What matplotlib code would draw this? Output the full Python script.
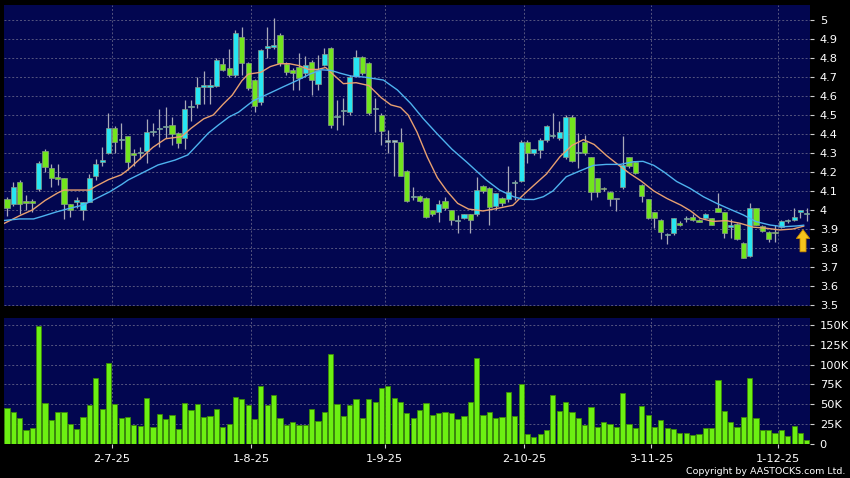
import numpy as np
import matplotlib
matplotlib.use("Agg")
from matplotlib import pyplot as plt

# daily OHLC (HKD), oldest first
opens = [4.06, 4.03, 4.15, 4.045, 4.045, 4.11, 4.31, 4.22, 4.175, 4.17,
         4.03, 4.04, 4.00, 4.04, 4.18, 4.255, 4.30, 4.43, 4.37, 4.39,
         4.30, 4.30, 4.31, 4.41, 4.425, 4.435, 4.45, 4.405, 4.38, 4.54,
         4.56, 4.65, 4.65, 4.655, 4.77, 4.75, 4.71, 4.91, 4.775, 4.685,
         4.57, 4.855, 4.86, 4.92, 4.77, 4.737, 4.754, 4.72, 4.78, 4.663,
         4.763, 4.851, 4.49, 4.52, 4.517, 4.707, 4.807, 4.772, 4.53, 4.50,
         4.36, 4.36, 4.36, 4.207, 4.07, 4.075, 4.065, 4.00, 3.99, 4.047,
         4.00, 3.94, 3.956, 3.977, 3.977, 4.128, 4.118, 4.023, 4.065, 4.058,
         4.14, 4.153, 4.36, 4.298, 4.316, 4.368, 4.39, 4.377, 4.28, 4.487,
         4.30, 4.36, 4.277, 4.167, 4.117, 4.096, 4.058, 4.12, 4.277, 4.254,
         4.132, 4.056, 3.988, 3.947, 3.87, 3.877, 3.933, 3.95, 3.965, 3.947,
         3.956, 3.956, 4.009, 3.988, 3.909, 3.925, 3.825, 3.758, 4.009, 3.917,
         3.886, 3.88, 3.912, 3.94, 3.947, 3.991, 3.977]
highs = [4.07, 4.15, 4.16, 4.08, 4.06, 4.26, 4.32, 4.24, 4.24, 4.17,
         4.03, 4.07, 4.04, 4.19, 4.27, 4.33, 4.51, 4.44, 4.46, 4.39,
         4.32, 4.33, 4.48, 4.46, 4.53, 4.54, 4.49, 4.41, 4.58, 4.58,
         4.70, 4.73, 4.69, 4.80, 4.80, 4.85, 4.95, 4.965, 4.78, 4.69,
         4.85, 4.965, 5.01, 4.93, 4.78, 4.75, 4.825, 4.81, 4.79, 4.816,
         4.851, 4.86, 4.58, 4.59, 4.71, 4.842, 4.81, 4.78, 4.588, 4.51,
         4.42, 4.36, 4.43, 4.21, 4.12, 4.08, 4.07, 4.00, 4.053, 4.07,
         4.00, 3.974, 3.98, 3.98, 4.175, 4.13, 4.12, 4.09, 4.07, 4.23,
         4.16, 4.37, 4.37, 4.32, 4.38, 4.45, 4.51, 4.47, 4.50, 4.50,
         4.404, 4.395, 4.28, 4.17, 4.12, 4.10, 4.06, 4.389, 4.28, 4.26,
         4.135, 4.06, 3.99, 3.95, 3.88, 3.96, 3.94, 3.97, 3.98, 3.95,
         3.985, 3.96, 4.088, 3.99, 3.95, 3.93, 3.83, 4.035, 4.01, 3.92,
         3.89, 3.92, 3.945, 3.955, 4.009, 4.00, 4.009]
lows = [3.97, 4.02, 3.98, 4.00, 3.99, 4.10, 4.20, 4.12, 4.13, 3.95,
        3.965, 4.01, 3.945, 4.04, 4.16, 4.23, 4.295, 4.30, 4.32, 4.21,
        4.23, 4.27, 4.25, 4.39, 4.33, 4.38, 4.34, 4.325, 4.32, 4.47,
        4.535, 4.56, 4.56, 4.65, 4.73, 4.70, 4.70, 4.71, 4.63, 4.515,
        4.555, 4.80, 4.85, 4.76, 4.71, 4.63, 4.63, 4.70, 4.605, 4.632,
        4.76, 4.43, 4.42, 4.447, 4.50, 4.70, 4.71, 4.50, 4.412, 4.342,
        4.30, 4.18, 4.18, 4.04, 4.05, 4.04, 3.96, 3.97, 3.935, 4.00,
        3.921, 3.877, 3.95, 3.877, 3.97, 4.09, 3.92, 4.00, 4.02, 4.04,
        4.05, 4.15, 4.246, 4.29, 4.272, 4.36, 4.38, 4.37, 4.27, 4.254,
        4.22, 4.29, 4.053, 4.07, 4.10, 4.021, 3.996, 4.11, 4.22, 4.19,
        4.044, 3.95, 3.907, 3.846, 3.821, 3.87, 3.915, 3.935, 3.94, 3.935,
        3.95, 3.92, 3.988, 3.851, 3.85, 3.84, 3.746, 3.754, 3.92, 3.886,
        3.83, 3.833, 3.905, 3.93, 3.94, 3.96, 3.94]
closes = [4.01, 4.12, 4.03, 4.035, 4.035, 4.25, 4.225, 4.17, 4.165, 4.03,
          4.00, 4.05, 4.04, 4.17, 4.24, 4.26, 4.43, 4.36, 4.375, 4.255,
          4.29, 4.305, 4.41, 4.415, 4.43, 4.44, 4.40, 4.355, 4.53, 4.545,
          4.65, 4.655, 4.655, 4.79, 4.735, 4.71, 4.93, 4.775, 4.64, 4.545,
          4.84, 4.86, 4.865, 4.772, 4.728, 4.72, 4.693, 4.763, 4.684, 4.737,
          4.82, 4.447, 4.495, 4.523, 4.70, 4.807, 4.72, 4.509, 4.537, 4.416,
          4.36, 4.36, 4.18, 4.047, 4.075, 4.047, 3.965, 3.98, 4.03, 4.009,
          3.947, 3.945, 3.977, 3.947, 4.105, 4.10, 4.018, 4.088, 4.035, 4.096,
          4.146, 4.36, 4.298, 4.32, 4.368, 4.44, 4.395, 4.41, 4.487, 4.256,
          4.305, 4.298, 4.096, 4.096, 4.111, 4.056, 4.058, 4.237, 4.233, 4.196,
          4.074, 3.956, 3.956, 3.886, 3.874, 3.956, 3.921, 3.955, 3.947, 3.939,
          3.977, 3.923, 3.988, 3.877, 3.921, 3.845, 3.748, 4.009, 3.921, 3.889,
          3.847, 3.878, 3.942, 3.944, 3.965, 3.998, 3.978]

# volume in thousands of shares
volumes = [45.7, 40.7, 32.4, 18, 20.5, 148.7, 51.3, 30.6, 40.7, 39.9,
           24.8, 19.3, 34.4, 48.7, 83.6, 43.7, 102.5, 50, 32.4, 33.6,
           24.3, 22.3, 57.6, 21.4, 37.8, 31.5, 36.2, 18.5, 51.7, 42.9,
           50, 34, 35.7, 43.7, 21.8, 25.6, 59.2, 56.3, 49.5, 31.9,
           73.1, 49.2, 61.8, 32.4, 24.3, 27.7, 23.6, 24.3, 43.7, 29,
           39.9, 113, 50, 34.9, 48.7, 56.3, 32.4, 56.3, 53.3, 70.2,
           73.5, 58.4, 52.6, 38.7, 33.2, 42.9, 52, 36.5, 38.7, 39.9,
           38.7, 31.9, 35.3, 52.6, 108.8, 36.2, 40.3, 32.4, 34.4, 65.5,
           35.3, 75.6, 13, 8.8, 12.2, 18, 61.4, 41.6, 52.6, 40.7,
           32.8, 23.9, 46.2, 21.8, 27.3, 24.8, 21.4, 64.3, 25.6, 20.5,
           47.5, 36.5, 21.8, 30.2, 20.5, 18.9, 13.9, 13.9, 11.3, 12.2,
           19.8, 20.5, 80.3, 41.6, 28.1, 21.4, 34, 82.8, 33.2, 17.3,
           18, 13.9, 18, 10.1, 23.1, 13.9, 5.4]

# moving averages, read at the bar positions given
ma10_pos = [-0.4, 2, 4, 6, 8, 9, 11, 13, 14, 16, 18, 19, 21, 23, 25, 27.5, 29, 31,
            32.5, 34, 35.5, 37, 38, 40, 41.5, 43, 44.5, 46, 47.5, 49, 50.2, 51.5,
            53, 55, 57, 59, 60.5, 62, 63.2, 64.6, 66.2, 67.8, 69.3, 71, 72.7, 75,
            77.5, 79.7, 81.2, 83, 85, 87.1, 89, 90.8, 92.5, 94.5, 96.6, 98.2, 99.8,
            101.9, 104, 106.2, 107.7, 109.2, 111.2, 113.3, 115.5, 117.5, 119.6,
            121.7, 123.8, 125.5]
ma10 = [3.93, 3.97, 4.00, 4.05, 4.09, 4.105, 4.105, 4.105, 4.125, 4.16, 4.185, 4.21,
        4.27, 4.33, 4.375, 4.386, 4.43, 4.48, 4.50, 4.555, 4.605, 4.68, 4.715, 4.725,
        4.755, 4.77, 4.77, 4.76, 4.74, 4.74, 4.75, 4.71, 4.665, 4.67, 4.655, 4.59,
        4.553, 4.54, 4.50, 4.41, 4.28, 4.17, 4.10, 4.035, 4.005, 3.995, 4.01, 4.025,
        4.075, 4.13, 4.19, 4.28, 4.34, 4.37, 4.345, 4.285, 4.23, 4.19, 4.155, 4.10,
        4.06, 4.025, 3.995, 3.956, 3.94, 3.944, 3.93, 3.91, 3.904, 3.895, 3.90, 3.915]
ma20_pos = [-0.4, 2, 4.2, 5.7, 7.8, 9.9, 12, 14.1, 16.2, 18.1, 19.1, 21.2, 23.8,
            26.5, 28.5, 30.2, 31.7, 33.3, 35, 36.5, 38.8, 41.4, 43.5, 45.6, 47.7,
            49.5, 51, 52.5, 54.2, 56.2, 59.3, 61.5, 63.6, 65.6, 67.8, 70.1, 72.5,
            75.5, 77.6, 79.8, 81.3, 83, 84.5, 86, 88.1, 90.2, 92.4, 94.4, 96.6, 98.7,
            100.2, 101.9, 103.5, 105.5, 107.6, 109.7, 111.8, 113.9, 116, 118, 120.2,
            122.3, 124.4, 125.5]
ma20 = [3.945, 3.953, 3.953, 3.968, 3.99, 4.009, 4.026, 4.061, 4.096, 4.135, 4.158,
        4.193, 4.237, 4.263, 4.29, 4.35, 4.404, 4.447, 4.49, 4.515, 4.575, 4.615,
        4.648, 4.68, 4.715, 4.738, 4.735, 4.72, 4.705, 4.70, 4.684, 4.632, 4.561,
        4.48, 4.40, 4.32, 4.25, 4.158, 4.105, 4.07, 4.056, 4.055, 4.07, 4.10, 4.175,
        4.205, 4.235, 4.24, 4.24, 4.254, 4.256, 4.235, 4.20, 4.15, 4.114, 4.07,
        4.035, 4.004, 3.974, 3.939, 3.921, 3.912, 3.916, 3.92]

date_pos = [16.5, 38.5, 59.5, 81.5, 101.5, 121.5]
date_labels = ['2-7-25', '1-8-25', '1-9-25', '2-10-25', '3-11-25', '1-12-25']
price_ticks = [3.5, 3.6, 3.7, 3.8, 3.9, 4.0, 4.1, 4.2, 4.3, 4.4, 4.5, 4.6, 4.7, 4.8, 4.9, 5.0]
vol_ticks = [0, 25, 50, 75, 100, 125, 150]
vol_labels = ['0', '25K', '50K', '75K', '100K', '125K', '150K']

bg = '#020650'
grid_kw = dict(color='#55557f', linestyle=(0, (2, 2)), linewidth=0.7)
up_col, down_col, flat_col = '#27e6f2', '#72e51e', '#9fc3cf'

fig = plt.figure(figsize=(8.5, 4.78), dpi=100, facecolor='black')
ax = fig.add_axes([4/850, 1-306/478, 806/850, 301/478], facecolor=bg)
axv = fig.add_axes([4/850, 1-444/478, 806/850, 126/478], facecolor=bg, sharex=ax)

x = np.arange(len(closes))
o = np.array(opens); c = np.array(closes)
h = np.array(highs); l = np.array(lows)

cols = [up_col if cc > oo else (down_col if cc < oo else flat_col) for oo, cc in zip(o, c)]
body_lo = np.minimum(o, c)
body_h = np.maximum(np.abs(c - o), 0.006)

ax.vlines(x, l, h, color='#a9a9b8', linewidth=0.9, zorder=2)
ax.bar(x, body_h, bottom=body_lo, width=0.82, color=cols,
       edgecolor='#8a9a8a', linewidth=0.5, zorder=3)
ax.plot(ma10_pos, ma10, color='#e8a070', linewidth=1.0, zorder=4)
ax.plot(ma20_pos, ma20, color='#4eb2ee', linewidth=1.0, zorder=4)

# yellow marker arrow at the last bar
ax.arrow(125.4, 3.78, 0, 0.07, width=0.95, head_width=2.1, head_length=0.047,
         length_includes_head=False, fc='#f6c21c', ec='#c98a00', linewidth=0.6,
         zorder=6, clip_on=False)

axv.bar(x, volumes, width=0.82, color='#6cf012', edgecolor='#3c8a08',
        linewidth=0.6, zorder=3)

ax.set_xlim(-0.46, 126.5)
ax.set_ylim(3.4947, 5.079)
axv.set_ylim(0, 158.5)

for a in (ax, axv):
    for s in a.spines.values():
        s.set_visible(False)
    a.yaxis.tick_right()
    a.tick_params(axis='y', colors='#cfcfcf', labelcolor='white', length=3,
                  width=0.8, pad=4, labelsize=8.2)
    a.set_xticks(date_pos)
    for xp in date_pos:
        a.axvline(xp, zorder=1, **grid_kw)

ax.set_yticks(price_ticks)
ax.set_yticklabels(['%g' % t for t in price_ticks])
for t in price_ticks:
    ax.axhline(t, zorder=1, **grid_kw)
ax.tick_params(axis='x', length=0, labelbottom=False)

axv.set_yticks(vol_ticks)
axv.set_yticklabels(vol_labels)
for t in vol_ticks[1:]:
    axv.axhline(t, zorder=1, **grid_kw)
axv.set_xticklabels(date_labels)
axv.tick_params(axis='x', colors='#cfcfcf', labelcolor='white', length=3,
                width=0.8, pad=4, labelsize=8.2)

fig.text(845/850, 1-471/478, 'Copyright by AASTOCKS.com Ltd.', color='white',
         fontsize=6.8, ha='right', va='center')

fig.savefig('out.png', dpi=100, facecolor='black')
